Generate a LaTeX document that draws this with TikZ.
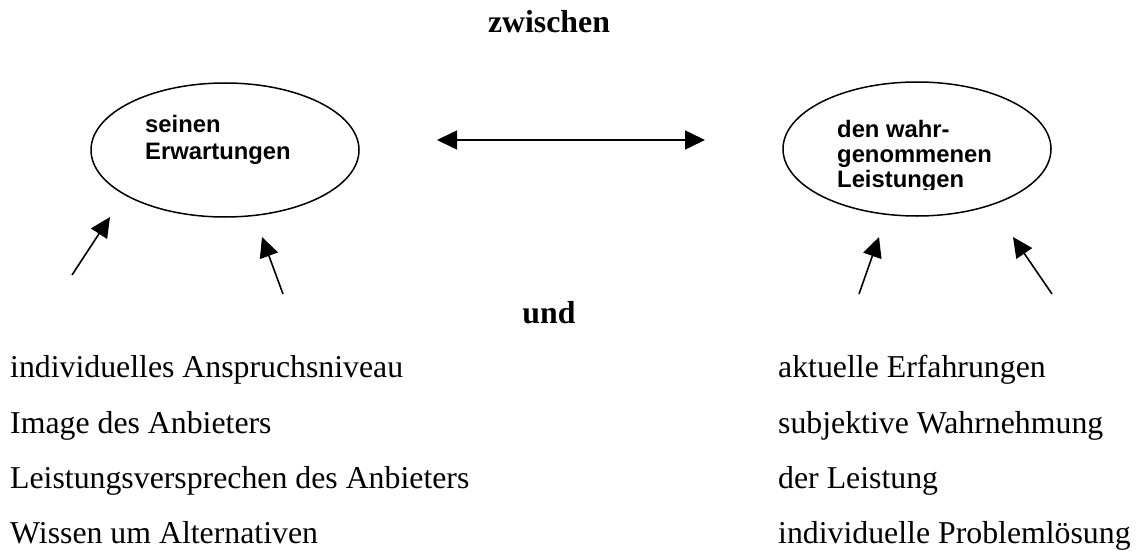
\documentclass[tikz,border=0pt]{standalone}
\usepackage{fontspec}
\setmainfont{Liberation Serif}
\newfontfamily\arialfont{Liberation Sans}
\usetikzlibrary{arrows.meta, shapes.geometric}

\begin{document}
\begin{tikzpicture}[
		x=1pt, y=-1pt,
		>={Triangle[length=20pt, width=19pt]},
		oval/.style={ellipse, draw, line width=1.5pt, minimum width=268pt, minimum height=134pt, inner sep=0pt},
		ovaltext/.style={anchor=base west, inner sep=0pt, font=\arialfont\bfseries\fontsize{23.8}{26.5}\selectfont},
		heading/.style={anchor=base, inner sep=0pt, font=\bfseries\fontsize{31.8}{36}\selectfont},
		item/.style={anchor=base west, inner sep=0pt, font=\fontsize{31.8}{36}\selectfont},
		link/.style={->, line width=1.6pt}
		]
		\useasboundingbox (0,0) rectangle (1146,551);
		
		% ==========================================
		% HEADINGS
		% ==========================================
		\node[heading] (zwischen) at (549,33) {zwischen};
		\node[heading] (und) at (549,323) {und};
		
		% ==========================================
		% ELLIPSES
		% ==========================================
		\node[oval] (erw) at (225,150) {};
		\node[ovaltext] (erw1) at (145,132) {seinen};
		\node[ovaltext] (erw2) at (145,159) {Erwartungen};
		
		\node[oval] (leist) at (917,149) {};
		\node[ovaltext] (leist1) at (837,137) {den wahr-};
		\node[ovaltext] (leist2) at (837,162) {genommenen};
		\begin{scope}
			\clip (830,165) rectangle (1000,189);
			\node[ovaltext] (leist3) at (837,187) {Leistungen};
		\end{scope}
		
		% ==========================================
		% CONNECTORS
		% ==========================================
		\coordinate (vl) at (437,140);
		\coordinate (vr) at (705,140);
		\draw[<->, line width=1.6pt] (vl) -- (vr);
		
		\coordinate (a1) at (72,275);   \coordinate (b1) at (110,217);
		\coordinate (a2) at (283,294);  \coordinate (b2) at (262,237);
		\coordinate (a3) at (859,294);  \coordinate (b3) at (879,237);
		\coordinate (a4) at (1052,294); \coordinate (b4) at (1013,237);
		\foreach \i in {1,...,4}
		\draw[link] (a\i) -- (b\i);
		
		% ==========================================
		% LISTS
		% ==========================================
		\node[item] (l1) at (10,377) {individuelles Anspruchsniveau};
		\node[item] (l2) at (10,433) {Image des Anbieters};
		\node[item] (l3) at (10,488) {Leistungsversprechen des Anbieters};
		\node[item] (l4) at (10,543) {Wissen um Alternativen};
		
		\node[item] (r1) at (778,377) {aktuelle Erfahrungen};
		\node[item] (r2) at (778,433) {subjektive Wahrnehmung};
		\node[item] (r3) at (778,488) {der Leistung};
		\node[item] (r4) at (778,543) {individuelle Problemlösung};
		
	\end{tikzpicture}
\end{document}
